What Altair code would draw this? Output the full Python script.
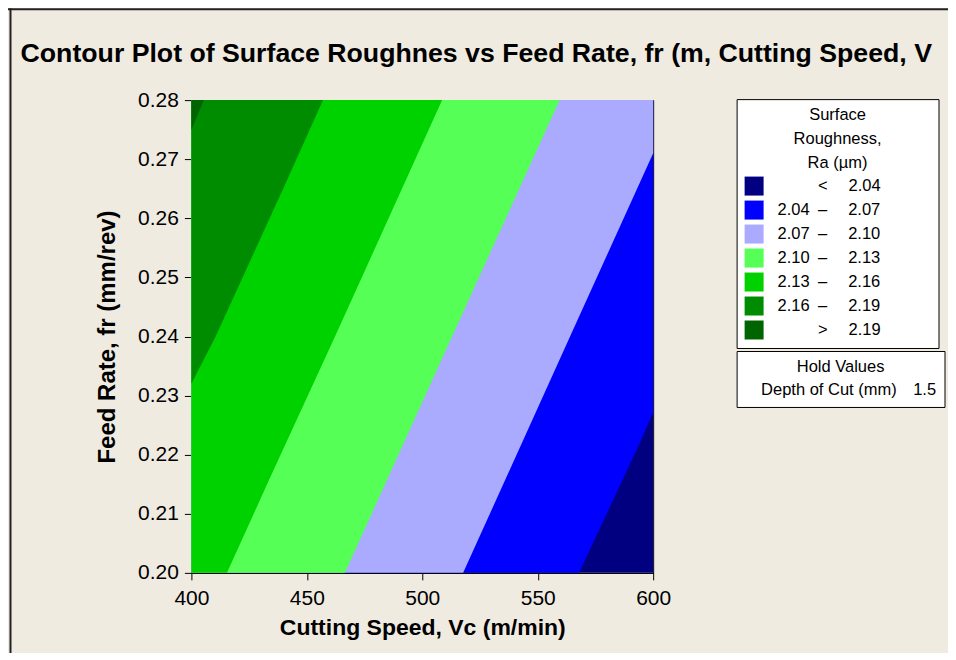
import altair as alt
import pandas as pd

# ---- legend / contour classes ----
FS, PS, EN, EM, NB, ZW = "\u2007", "\u2008", "\u2002", "\u2003", "\u00a0", "\u200b"
PAD = EM * 3
band_labels = [
    f"{ZW}{FS}{PS}{FS}{FS}{EN}<{EM}{NB}2.04{PAD}{ZW}",
    f"{ZW}2.04{EN}\u2013{EM}{NB}2.07{PAD}{ZW}",
    f"{ZW}2.07{EN}\u2013{EM}{NB}2.10{PAD}{ZW}",
    f"{ZW}2.10{EN}\u2013{EM}{NB}2.13{PAD}{ZW}",
    f"{ZW}2.13{EN}\u2013{EM}{NB}2.16{PAD}{ZW}",
    f"{ZW}2.16{EN}\u2013{EM}{NB}2.19{PAD}{ZW}",
    f"{ZW}{FS}{PS}{FS}{FS}{EN}>{EM}{NB}2.19{PAD}{ZW}",
]
band_colors = ["#000080", "#0000FF", "#AAAAFF", "#55FF55", "#00D200", "#008C00", "#006400"]

# ---- contour boundary lines, limited to the plot window ----
# (Feed Rate fr, Cutting Speed Vc); 600 / 400 where the line has left the window
b204_fr = [0.20, 0.2225, 0.2272, 0.28]
b204_vc = [567.9, 594.8, 600.0, 600.0]

b207_fr = [0.20, 0.24, 0.271, 0.28]
b207_vc = [517.7, 564.0, 600.0, 600.0]

b210_fr = [0.20, 0.2157, 0.24, 0.28]
b210_vc = [466.5, 484.7, 512.9, 559.5]

b213_fr = [0.20, 0.2157, 0.24, 0.28]
b213_vc = [415.4, 433.6, 462.2, 508.6]

b216_fr = [0.20, 0.232, 0.24, 0.2648, 0.28]
b216_vc = [400.0, 400.0, 410.5, 439.5, 457.0]

b219_fr = [0.20, 0.275, 0.28]
b219_vc = [400.0, 400.0, 405.4]

boundaries = [
    (b204_fr, b204_vc),
    (b207_fr, b207_vc),
    (b210_fr, b210_vc),
    (b213_fr, b213_vc),
    (b216_fr, b216_vc),
    (b219_fr, b219_vc),
]

vc_range = [400, 600]
fr_range = [0.20, 0.28]
x_ticks = [400, 450, 500, 550, 600]
y_ticks = [0.20, 0.21, 0.22, 0.23, 0.24, 0.25, 0.26, 0.27, 0.28]

hold_label = f"{ZW}Depth of Cut (mm){EM}1.5{ZW}"

FONT = "Liberation Sans"

x_scale = alt.Scale(domain=vc_range, nice=False, zero=False)
y_scale = alt.Scale(domain=fr_range, nice=False, zero=False)

X = alt.X("vc:Q", scale=x_scale,
          axis=alt.Axis(values=x_ticks, title="Cutting Speed, Vc (m/min)", format="d",
                        labelFlush=False, labelOverlap=False, labelPadding=8,
                        titlePadding=8, titleFontSize=23))
Y = alt.Y("fr:Q", scale=y_scale,
          axis=alt.Axis(values=y_ticks, title="Feed Rate, fr (mm/rev)", format=".2f",
                        labelFlush=False, labelOverlap=False, labelPadding=6,
                        titlePadding=18, titleFontSize=24))

color = alt.Color(
    "band:N",
    scale=alt.Scale(domain=band_labels, range=band_colors),
    legend=alt.Legend(
        title=["Surface", "Roughness,", "Ra (\u00b5m)"],
        orient="none", legendX=545.5, legendY=-1, direction="vertical",
        titleAnchor="middle", titleAlign="center", titleFontWeight="normal",
        titleFontSize=16.5, titleLineHeight=24, titlePadding=5, titleFont=FONT,
        titleColor="black",
        labelFontSize=16.5, labelFont=FONT, labelColor="black", labelOffset=14,
        labelLimit=400,
        symbolType="square", symbolSize=361, symbolStrokeWidth=0, symbolOpacity=1,
        rowPadding=5, padding=8, strokeColor="black", fillColor="white",
    ),
)

base_df = pd.DataFrame({"vc": [vc_range[0]], "vc2": [vc_range[1]],
                        "fr": [fr_range[0]], "fr2": [fr_range[1]],
                        "band": [band_labels[0]]})
base = alt.Chart(base_df).mark_rect().encode(x=X, x2="vc2", y=Y, y2="fr2", color=color)

layers = [base]
for i, (frs, vcs) in enumerate(boundaries):
    df = pd.DataFrame({"fr": frs, "vc": vcs, "vmin": vc_range[0], "band": band_labels[i + 1]})
    layers.append(
        alt.Chart(df).mark_area(orient="horizontal").encode(
            y=Y, x=X, x2="vmin", color=color
        )
    )

hold_df = pd.DataFrame({"vc": [vc_range[0]], "fr": [fr_range[0]], "hold": [hold_label]})
hold = alt.Chart(hold_df).mark_point(opacity=0).encode(
    x=X, y=Y,
    shape=alt.Shape("hold:N", scale=alt.Scale(range=["square"]),
                    legend=alt.Legend(
                        title="Hold Values", orient="none", legendX=545.5, legendY=251,
                        titleAnchor="middle", titleAlign="center", titleFontWeight="normal",
                        titleFontSize=16.5, titleLineHeight=24, titlePadding=6, titleFont=FONT,
                        titleColor="black",
                        labelFontSize=16.5, labelFont=FONT, labelColor="black", labelOffset=0,
                        labelLimit=400,
                        symbolSize=0, symbolOpacity=0, symbolStrokeWidth=0,
                        padding=8, strokeColor="black", fillColor="white",
                    )),
)

frame = alt.Chart(alt.Data(values=[{}])).mark_rule(color="#222222", strokeWidth=2).encode(
    x=alt.value(-181), y=alt.value(-92), y2=alt.value(560)
)
frame_top = alt.Chart(alt.Data(values=[{}])).mark_rule(color="#222222", strokeWidth=2).encode(
    x=alt.value(-183.5), x2=alt.value(760), y=alt.value(-91)
)

layers += [hold, frame, frame_top]

chart = alt.layer(*layers).properties(
    width=462, height=473,
    background="#EFEBE1",
    autosize=alt.AutoSizeParams(type="none"),
    padding={"left": 183.5, "top": 92, "right": 295, "bottom": 80},
    title=alt.TitleParams(
        "Contour Plot of Surface Roughnes vs Feed Rate, fr (m, Cutting Speed, V",
        font=FONT, fontSize=26.7, fontWeight="bold", color="black",
        anchor="middle", frame="group", dx=54, offset=0, dy=82, baseline="alphabetic",
    ),
).configure_view(stroke="black", strokeWidth=1).configure_axis(
    domainColor="black", domainWidth=1, tickColor="black", tickSize=7, tickWidth=1,
    labelFont=FONT, labelFontSize=21, labelColor="black",
    titleFont=FONT, titleFontWeight="bold", titleColor="black",
    grid=False,
)

chart.save("out.html", embed_options={"renderer": "svg", "actions": False})
